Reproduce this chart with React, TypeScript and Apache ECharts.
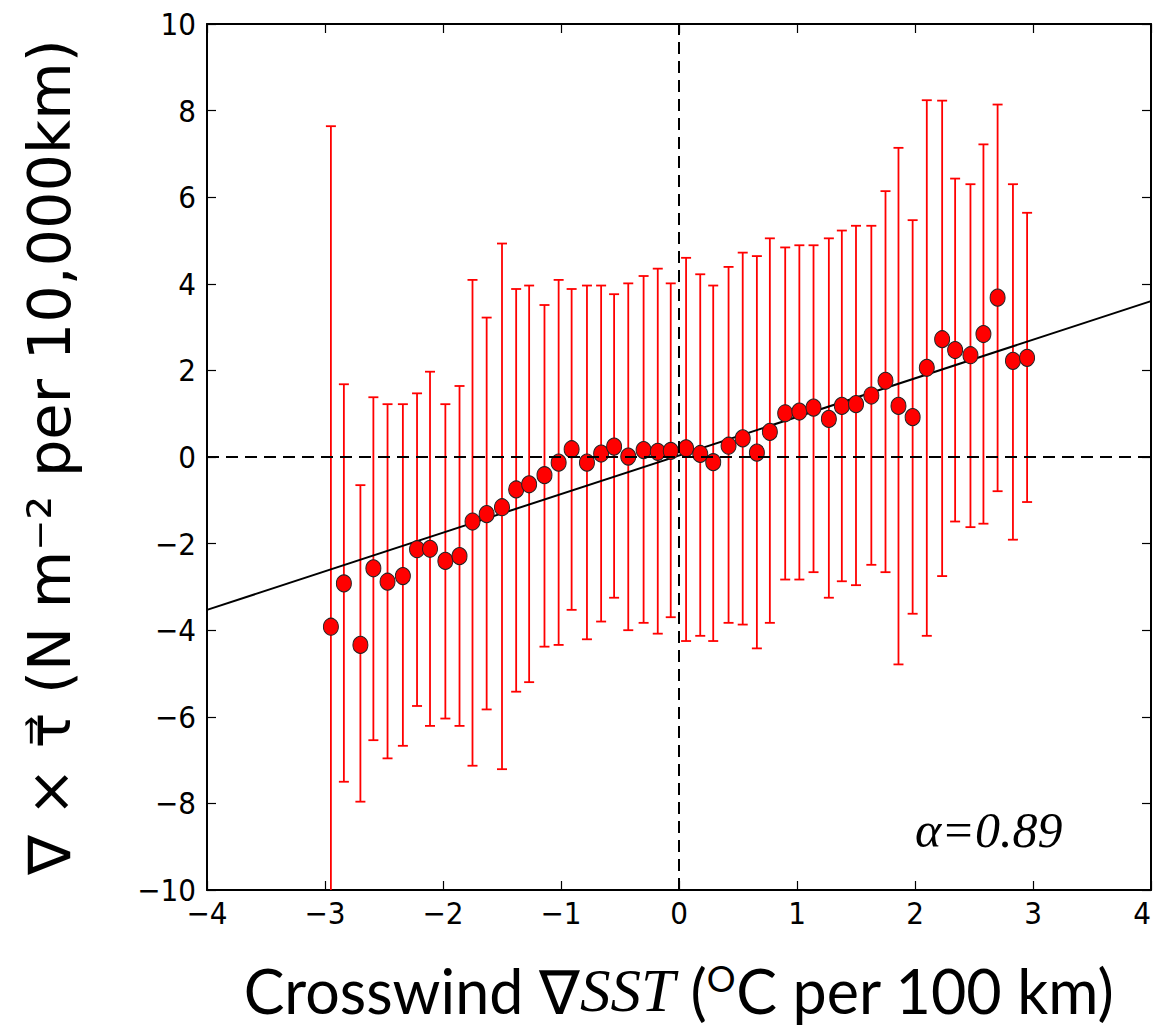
import React, { useEffect, useRef } from "react";
import * as echarts from "echarts";

// Crosswind SST gradient bin centres (°C per 100 km)
const binX = [
  -2.95, -2.84, -2.7, -2.59, -2.47, -2.34, -2.22, -2.11, -1.98, -1.86,
  -1.75, -1.63, -1.5, -1.38, -1.27, -1.14, -1.02, -0.91, -0.78, -0.66,
  -0.55, -0.43, -0.3, -0.18, -0.07, 0.06, 0.18, 0.29, 0.42, 0.54,
  0.66, 0.77, 0.9, 1.02, 1.14, 1.27, 1.38, 1.5, 1.63, 1.75,
  1.86, 1.98, 2.1, 2.23, 2.34, 2.47, 2.58, 2.7, 2.83, 2.95,
];
// Mean wind stress curl in each bin
const meanCurl = [
  -3.92, -2.92, -4.34, -2.57, -2.88, -2.75, -2.13, -2.12, -2.4, -2.29,
  -1.49, -1.32, -1.16, -0.75, -0.63, -0.42, -0.13, 0.18, -0.13, 0.08,
  0.24, 0.01, 0.16, 0.12, 0.14, 0.2, 0.07, -0.12, 0.26, 0.43,
  0.1, 0.58, 1.01, 1.05, 1.14, 0.88, 1.18, 1.22, 1.42, 1.76,
  1.18, 0.92, 2.06, 2.72, 2.47, 2.35, 2.84, 3.68, 2.22, 2.29,
];
// Upper end of error bar
const upperCurl = [
  7.64, 1.68, -0.65, 1.38, 1.22, 1.22, 1.47, 1.97, 1.22, 1.64,
  4.09, 3.22, 4.93, 3.88, 3.96, 3.51, 4.09, 3.88, 3.96, 3.96,
  3.76, 4.01, 4.18, 4.35, 4.01, 4.6, 4.22, 3.96, 4.39, 4.72,
  4.64, 5.05, 4.84, 4.89, 4.89, 5.05, 5.23, 5.34, 5.34, 6.14,
  7.14, 5.47, 8.24, 8.23, 6.43, 6.3, 7.22, 8.14, 6.3, 5.64,
];
// Lower end of error bar
const lowerCurl = [
  -11.0, -7.5, -7.96, -6.54, -6.96, -6.67, -5.75, -6.21, -6.04, -6.21,
  -7.13, -5.83, -7.21, -5.42, -5.2, -4.38, -4.34, -3.53, -4.21, -3.8,
  -3.25, -4.0, -3.83, -4.08, -3.7, -4.25, -4.13, -4.25, -3.83, -3.87,
  -4.42, -3.83, -2.83, -2.83, -2.66, -3.25, -2.87, -2.96, -2.49, -2.66,
  -4.79, -3.62, -4.13, -2.75, -1.49, -1.62, -1.54, -0.79, -1.91, -1.04,
];
// Linear fit end points
const fitX = [-4, 4];
const fitY = [-3.53, 3.6];

const xTicks = { min: -4, max: 4, interval: 1 };
const yTicks = { min: -10, max: 10, interval: 2 };

const minus = (v: number) => String(v).replace("-", "\u2212");

export default function App() {
  const ref = useRef<HTMLDivElement>(null);

  useEffect(() => {
    document.body.style.margin = "0";
    const chart = echarts.init(ref.current!, undefined, { renderer: "svg" });

    const tickFont = {
      fontFamily: "'DejaVu Sans Condensed', 'DejaVu Sans', sans-serif",
      fontSize: 31,
      color: "#000",
    };
    const axisLine = { show: true, onZero: false, lineStyle: { color: "#000", width: 2 } };
    const axisTick = { show: true, inside: true, length: 9, lineStyle: { color: "#000", width: 1.2 } };

    const option: any = {
      animation: false,
      backgroundColor: "#fff",
      grid: {
        left: 207,
        right: 4,
        top: 24,
        bottom: 141,
        containLabel: false,
        outerBoundsMode: "none",
      },
      xAxis: [
        {
          type: "value",
          ...xTicks,
          position: "bottom",
          axisLine,
          axisTick,
          splitLine: { show: false },
          axisLabel: { ...tickFont, margin: 7, formatter: minus, alignMaxLabel: "right" },
          name: "{n|Crosswind \u2207}{i|SST}{n| (}{s|O}{n|C per 100 km)}",
          nameLocation: "middle",
          nameGap: 70,
          nameTextStyle: {
            rich: {
              n: { fontFamily: "Lato, 'Open Sans', sans-serif", fontSize: 61, color: "#000" },
              i: {
                fontFamily: "'Liberation Serif', serif",
                fontStyle: "italic",
                fontSize: 61,
                color: "#000",
              },
              s: {
                fontFamily: "Lato, 'Open Sans', sans-serif",
                fontSize: 36,
                color: "#000",
                verticalAlign: "top",
              },
            },
          },
        },
        {
          type: "value",
          ...xTicks,
          position: "top",
          axisLine,
          axisTick,
          splitLine: { show: false },
          axisLabel: { show: false },
        },
      ],
      yAxis: [
        {
          type: "value",
          ...yTicks,
          position: "left",
          axisLine,
          axisTick,
          splitLine: { show: false },
          axisLabel: { ...tickFont, margin: 11, formatter: minus },
          name: "\u2207 \u00d7 \u03c4\u20d7 (N m\u207b\u00b2 per 10,000km)",
          nameLocation: "middle",
          nameRotate: 90,
          nameGap: 128,
          nameTextStyle: {
            fontFamily: "'DejaVu Sans', sans-serif",
            fontSize: 59,
            color: "#000",
          },
        },
        {
          type: "value",
          ...yTicks,
          position: "right",
          axisLine,
          axisTick,
          splitLine: { show: false },
          axisLabel: { show: false },
        },
      ],
      series: [
        {
          type: "custom",
          name: "error",
          clip: true,
          z: 2,
          data: binX.map((x, i) => [x, lowerCurl[i], upperCurl[i]]),
          encode: { x: 0, y: [1, 2] },
          renderItem: (params: any, api: any) => {
            const x = api.value(0);
            const lo = api.value(1);
            const hi = api.value(2);
            const top = api.coord([x, hi]);
            const bot = api.coord([x, lo]);
            const hw = 5;
            const style = { stroke: "#ff0000", lineWidth: 1.8 };
            return {
              type: "group",
              children: [
                { type: "line", shape: { x1: top[0], y1: top[1], x2: bot[0], y2: bot[1] }, style },
                { type: "line", shape: { x1: top[0] - hw, y1: top[1], x2: top[0] + hw, y2: top[1] }, style },
                { type: "line", shape: { x1: bot[0] - hw, y1: bot[1], x2: bot[0] + hw, y2: bot[1] }, style },
              ],
            };
          },
        },
        {
          type: "line",
          name: "fit",
          z: 3,
          symbol: "none",
          data: fitX.map((x, i) => [x, fitY[i]]),
          lineStyle: { color: "#000", width: 2 },
          markLine: {
            silent: true,
            symbol: ["none", "none"],
            label: { show: false },
            lineStyle: { color: "#000", width: 2, type: [12, 7] },
            data: [{ xAxis: 0 }, { yAxis: 0 }],
          },
        },
        {
          type: "scatter",
          name: "mean",
          z: 4,
          symbol: "circle",
          symbolSize: [15, 17],
          data: binX.map((x, i) => [x, meanCurl[i]]),
          itemStyle: { color: "#ff0000", borderColor: "#222", borderWidth: 1, opacity: 1 },
        },
      ],
      graphic: [
        {
          type: "text",
          left: 915,
          top: 805,
          style: {
            text: "\u03b1=0.89",
            fontFamily: "'Liberation Serif', serif",
            fontStyle: "italic",
            fontSize: 50,
            fill: "#000",
          },
        },
      ],
    };

    chart.setOption(option);
    return () => chart.dispose();
  }, []);

  return <div ref={ref} style={{ width: 1155, height: 1031 }} />;
}
